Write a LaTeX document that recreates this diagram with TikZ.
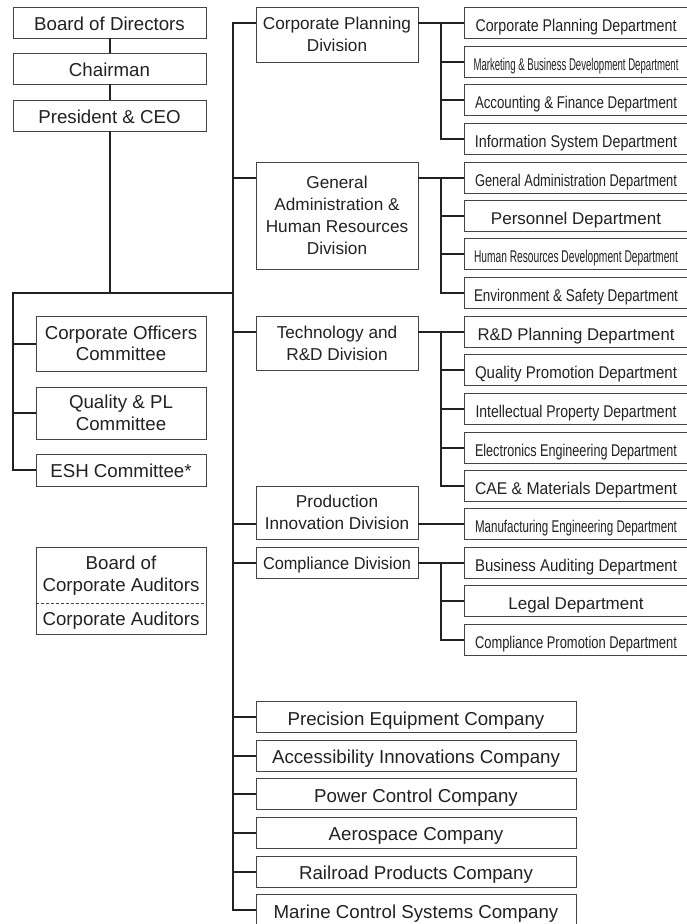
\documentclass[tikz,border=0pt]{standalone}
\usepackage{fontspec}
\setmainfont{Liberation Sans}
\usepackage{graphicx}
\definecolor{ink}{HTML}{222222}
\definecolor{edgec}{HTML}{444444}
\newcommand{\cond}[2]{\resizebox{#1pt}{\height}{#2}}
\begin{document}
\begin{tikzpicture}[x=1pt,y=-1pt,
  base/.style={draw=edgec, line width=0.9pt, inner sep=0pt, align=center, text=ink},
  topbox/.style={base, minimum width=193pt, minimum height=31pt, text height=20.4pt, text depth=4pt, font=\fontsize{18.7}{21.5}\selectfont},
  cmtbox/.style={base, minimum width=170pt, font=\fontsize{18.7}{21.5}\selectfont},
  plain/.style={inner sep=0pt, align=center, text=ink, font=\fontsize{18.7}{21.5}\selectfont},
  divbox/.style={base, minimum width=162pt, font=\fontsize{17.2}{22}\selectfont},
  deptbox/.style={base, minimum width=224pt, minimum height=31pt, text height=21pt, text depth=4pt, font=\fontsize{17}{20}\selectfont},
  compbox/.style={base, minimum width=320pt, minimum height=31pt, text height=20.4pt, text depth=4pt, font=\fontsize{18.7}{22}\selectfont},
  conn/.style={draw=ink, line width=2pt},
]
\useasboundingbox (0,0) rectangle (687,924);
\fill[white] (0,0) rectangle (687,924);

% top-left chain
\node[topbox] (bod) at (109.5,22.5) {Board of Directors};
\node[topbox] (chair) at (109.5,68.5) {Chairman};
\node[topbox] (pres) at (109.5,115.5) {President \& CEO};

% committees
\node[cmtbox, minimum height=55pt] (coc) at (121,343.5) {Corporate Officers\\Committee};
\node[cmtbox, minimum height=52pt] (qpl) at (121,413) {Quality \& PL\\Committee};
\node[cmtbox, minimum height=32pt, text height=18.4pt, text depth=4pt] (esh) at (121,470) {ESH Committee*};

% auditors
\node[cmtbox, minimum height=87pt] (aud) at (121,590.5) {};
\node[plain] (audtop) at (121,575.5) {Board of\\Corporate Auditors};
\node[plain, text height=18.4pt, text depth=4pt] (audbot) at (121,618.5) {Corporate Auditors};
\coordinate (dashy) at (0,603);
\draw[draw=edgec, line width=0.8pt, dash pattern=on 3pt off 2pt] (aud.west |- dashy) -- (aud.east |- dashy);

% divisions
\node[divbox, minimum height=55pt] (cpd) at (337,34.5) {Corporate Planning\\Division};
\node[divbox, minimum height=107pt] (gahr) at (337,215.5) {General\\Administration \&\\Human Resources\\Division};
\node[divbox, minimum height=54pt] (tech) at (337,343) {Technology and\\R\&D Division};
\node[divbox, minimum height=53pt] (prod) at (337,512.5) {Production\\Innovation Division};
\node[divbox, minimum height=31pt, text height=17.3pt, text depth=4pt] (comp) at (337,562.5) {\cond{148}{Compliance Division}};

% departments
\node[deptbox] (d1) at (576,22.5) {\cond{201}{Corporate Planning Department}};
\node[deptbox] (d2) at (576,61.5) {\cond{205}{Marketing \& Business Development Department}};
\node[deptbox] (d3) at (576,99.5) {\cond{202}{Accounting \& Finance Department}};
\node[deptbox] (d4) at (576,138.5) {\cond{202}{Information System Department}};
\node[deptbox] (d5) at (576,177.5) {\cond{202}{General Administration Department}};
\node[deptbox] (d6) at (576,215.5) {Personnel Department};
\node[deptbox] (d7) at (576,254) {\cond{204}{Human Resources Development Department}};
\node[deptbox] (d8) at (576,292.5) {\cond{204}{Environment \& Safety Department}};
\node[deptbox] (d9) at (576,331.5) {\cond{197}{R\&D Planning Department}};
\node[deptbox] (d10) at (576,370) {\cond{202}{Quality Promotion Department}};
\node[deptbox] (d11) at (576,408.5) {\cond{201}{Intellectual Property Department}};
\node[deptbox] (d12) at (576,447.5) {\cond{202}{Electronics Engineering Department}};
\node[deptbox] (d13) at (576,485.5) {\cond{202}{CAE \& Materials Department}};
\node[deptbox] (d14) at (576,524) {\cond{202}{Manufacturing Engineering Department}};
\node[deptbox] (d15) at (576,562.5) {\cond{202}{Business Auditing Department}};
\node[deptbox] (d16) at (576,601) {Legal Department};
\node[deptbox] (d17) at (576,639.5) {\cond{202}{Compliance Promotion Department}};

% companies
\node[compbox] (c1) at (416,717) {Precision Equipment Company};
\node[compbox] (c2) at (416,755.5) {Accessibility Innovations Company};
\node[compbox] (c3) at (416,794) {Power Control Company};
\node[compbox] (c4) at (416,832.5) {Aerospace Company};
\node[compbox] (c5) at (416,871.5) {Railroad Products Company};
\node[compbox, minimum height=32pt] (c6) at (416,910) {Marine Control Systems Company};

% connectors: top-left chain
\draw[conn] (bod) -- (chair);
\draw[conn] (chair) -- (pres);
\coordinate (lj) at (110,293);
\coordinate (lleft) at (13,293);
\coordinate (trunkj) at (233,293);
\coordinate (tx) at (233,0);
\coordinate (bx) at (441,0);
\draw[conn] (pres.south -| lj) -- (lj);
\draw[conn] (trunkj) -- (lleft) |- (esh.west);
\draw[conn] (lleft |- coc) -- (coc.west);
\draw[conn] (lleft |- qpl) -- (qpl.west);

% trunk
\draw[conn] (cpd.west |- d1) -| (tx |- c6) -- (c6.west);
\draw[conn] (tx |- d5) -- (gahr.west |- d5);
\draw[conn] (tx |- d9) -- (tech.west |- d9);
\draw[conn] (tx |- d14) -- (prod.west |- d14);
\draw[conn] (tx |- d15) -- (comp.west |- d15);
\draw[conn] (tx |- c1) -- (c1.west);
\draw[conn] (tx |- c2) -- (c2.west);
\draw[conn] (tx |- c3) -- (c3.west);
\draw[conn] (tx |- c4) -- (c4.west);
\draw[conn] (tx |- c5) -- (c5.west);

% corporate planning
\draw[conn] (cpd.east |- d1) -- (d1.west);
\draw[conn] (bx |- d1) |- (d4.west);
\draw[conn] (bx |- d2) -- (d2.west);
\draw[conn] (bx |- d3) -- (d3.west);
% GA & HR
\draw[conn] (gahr.east |- d5) -- (d5.west);
\draw[conn] (bx |- d5) |- (d8.west);
\draw[conn] (bx |- d6) -- (d6.west);
\draw[conn] (bx |- d7) -- (d7.west);
% technology
\draw[conn] (tech.east |- d9) -- (d9.west);
\draw[conn] (bx |- d9) |- (d13.west);
\draw[conn] (bx |- d10) -- (d10.west);
\draw[conn] (bx |- d11) -- (d11.west);
\draw[conn] (bx |- d12) -- (d12.west);
% production
\draw[conn] (prod.east |- d14) -- (d14.west);
% compliance
\draw[conn] (comp.east |- d15) -- (d15.west);
\draw[conn] (bx |- d15) |- (d17.west);
\draw[conn] (bx |- d16) -- (d16.west);
\end{tikzpicture}
\end{document}
